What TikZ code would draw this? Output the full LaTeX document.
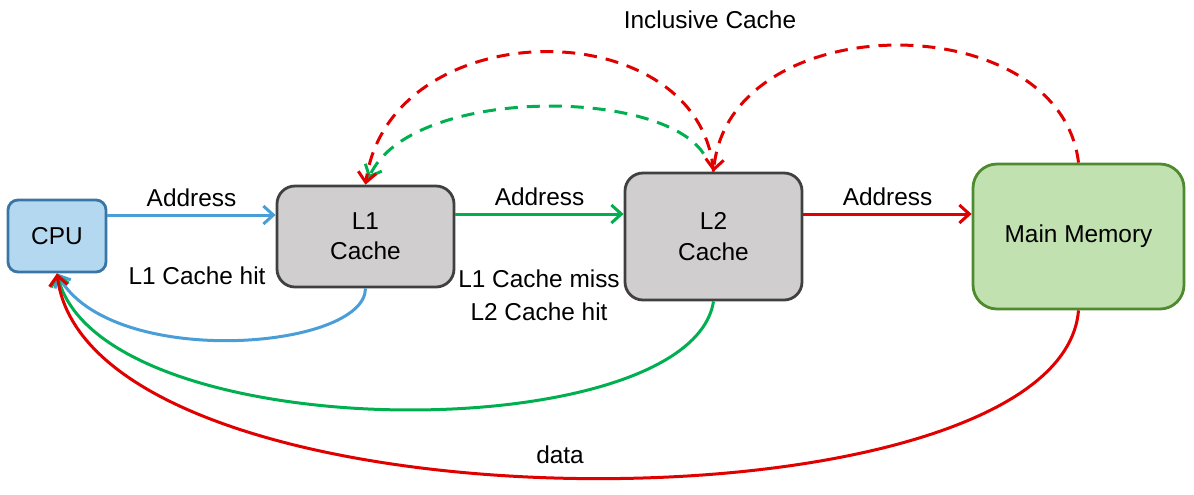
\documentclass[tikz,border=0pt]{standalone}
\usepackage{fontspec}
\setmainfont{Liberation Sans}
\usetikzlibrary{arrows.meta}
\definecolor{cpufill}{HTML}{B5D8F1}
\definecolor{cpuline}{HTML}{3A75A6}
\definecolor{cachefill}{HTML}{D0CECE}
\definecolor{cacheline}{HTML}{404040}
\definecolor{memfill}{HTML}{C1E1B1}
\definecolor{memline}{HTML}{4F8A2F}
\definecolor{ablue}{HTML}{4A9ED8}
\definecolor{agreen}{HTML}{00B050}
\definecolor{ared}{HTML}{E00000}
\tikzset{
  box/.style={rectangle, line width=1.4pt, inner sep=0pt, align=center,
    font=\fontsize{12.2}{14.8}\selectfont},
  lbl/.style={font=\fontsize{12.2}{14.8}\selectfont, inner sep=0pt, align=center},
  conn/.style={line width=1.5pt, -{Straight Barb[length=5pt,width=9pt,line width=1.5pt]}},
  dconn/.style={conn, dash pattern=on 6.5pt off 4.5pt},
}
\begin{document}
\begin{tikzpicture}[x=0.5pt,y=-0.5pt]
\useasboundingbox (0,0) rectangle (1194,494);
\node[box, fill=cpufill, draw=cpuline, rounded corners=5pt, minimum width=49pt, minimum height=36pt] (cpu) at (57,236) {CPU};
\node[box, fill=cachefill, draw=cacheline, rounded corners=9pt, minimum width=88.5pt, minimum height=50.5pt] (l1) at (365.5,236.5) {L1\\Cache};
\node[box, fill=cachefill, draw=cacheline, rounded corners=9pt, minimum width=88.5pt, minimum height=63.5pt] (l2) at (713.5,236.5) {L2\\[0.5pt]Cache};
\node[box, fill=memfill, draw=memline, rounded corners=12pt, minimum width=105.5pt, minimum height=72.5pt] (mm) at (1078.5,236.5) {Main Memory};

% forward address arrows
\draw[conn, ablue] ([yshift=10.5pt]cpu.east) -- node[lbl, yshift=8.5pt, text=black] (a1) {Address} ([yshift=10.75pt]l1.west);
\draw[conn, agreen] ([yshift=11.25pt]l1.east) -- node[lbl, yshift=8.5pt, text=black] (a2) {Address} ([yshift=11.25pt]l2.west);
\draw[conn, ared] ([yshift=11.25pt]l2.east) -- node[lbl, yshift=8.5pt, text=black] (a3) {Address} ([yshift=11.25pt]mm.west);

% return data arrows
\draw[conn, ablue] (l1.south) .. controls (365,350) and (110,370) .. (cpu.south);
\draw[conn, agreen] (l2.south) .. controls (690,450) and (100,450) .. (cpu.south);
\draw[conn, ared] (mm.south) .. controls (1060,540) and (90,540) .. (cpu.south);

% inclusive fills
\draw[dconn, agreen] ([shift={(-5pt,9pt)}]l2.north) .. controls (660,87) and (410,87) .. ([shift={(1.5pt,3pt)}]l1.north);
\draw[dconn, ared] (l2.north) .. controls (700,10) and (390,10) .. (l1.north);
\draw[dconn, ared] (mm.north) .. controls (1060,5) and (730,5) .. (l2.north);

% labels
\node[lbl] (hit1) at (197,276) {L1 Cache hit};
\node[lbl] (miss) at (539,295.5) {L1 Cache miss\\[1.5pt]L2 Cache hit};
\node[lbl] (incl) at (710,20) {Inclusive Cache};
\node[lbl] (data) at (560,455) {data};
\end{tikzpicture}
\end{document}
